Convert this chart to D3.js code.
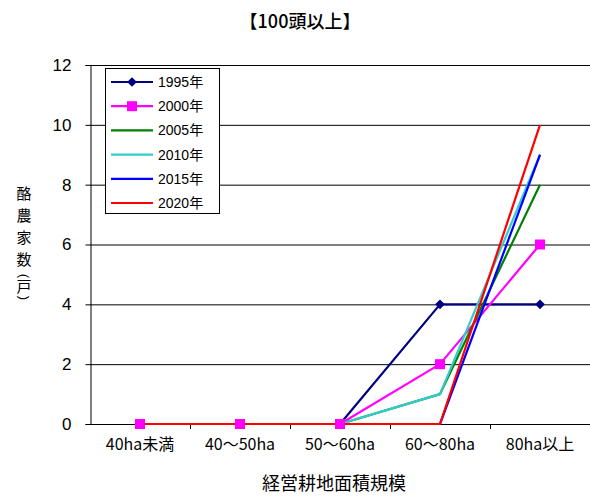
<!DOCTYPE html>
<html><head><meta charset="utf-8">
<script src="https://cdn.jsdelivr.net/npm/d3@7"></script>
<style>
body{margin:0;background:#fff;}
text{font-family:"Noto Sans CJK JP","Liberation Sans",sans-serif;fill:#000;}
</style></head>
<body><svg id="c" width="590" height="496"></svg>
<script>
const categories = ["40ha未満","40～50ha","50～60ha","60～80ha","80ha以上"];
const seriesNames = ["1995年","2000年","2005年","2010年","2015年","2020年"];
const v1995 = [0,0,0,4,4];
const v2000 = [0,0,0,2,6];
const v2005 = [0,0,0,1,8];
const v2010 = [0,0,0,1,9];
const v2015 = [0,0,0,0,9];
const v2020 = [0,0,0,0,10];
const yTicks = [0,2,4,6,8,10,12];
const colors = ["#000080","#FF00FF","#008000","#33CCCC","#0000FF","#FF0000"];
const markers = ["diamond","square",null,null,null,null];
const series = [v1995,v2000,v2005,v2010,v2015,v2020].map((v,i)=>({name:seriesNames[i],values:v,color:colors[i],marker:markers[i]}));

const svg = d3.select("#c");
const L=90,R=590,T=65,B=424;
const x = d3.scaleBand().domain(categories).range([L,R]);
const y = d3.scaleLinear().domain([0,12]).range([B,T]);

// gridlines
svg.append("g").selectAll("line").data(yTicks.filter(d=>d>0)).join("line")
  .attr("x1",L).attr("x2",R).attr("y1",d=>y(d)+0.5).attr("y2",d=>y(d)+0.5)
  .attr("stroke","#000").attr("stroke-width",1);

// y axis
const ya = svg.append("g").attr("transform",`translate(${L+0.5},0)`)
  .call(d3.axisLeft(y).tickValues(yTicks).tickSize(5).tickPadding(14));
ya.select(".domain").attr("stroke","#000");
ya.selectAll("text").attr("font-size",17).style("font-family","'Liberation Sans',sans-serif");
ya.selectAll(".tick line").attr("stroke","#000");

// x axis
const xa = svg.append("g").attr("transform",`translate(0,${B+0.5})`)
  .call(d3.axisBottom(x).tickSize(0).tickPadding(16));
xa.select(".domain").attr("stroke","#000").attr("d",`M${L},0H${R}`);
xa.selectAll("text").attr("font-size",16).attr("dy","0.6em");
// boundary ticks
svg.append("g").selectAll("line").data(categories.slice(1)).join("line")
  .attr("x1",d=>x(d)+0.5).attr("x2",d=>x(d)+0.5).attr("y1",B).attr("y2",B+5)
  .attr("stroke","#000");

// lines
const line = d3.line().x((d,i)=>x(categories[i])+x.bandwidth()/2).y(d=>y(d));
svg.append("g").selectAll("path").data(series).join("path")
  .attr("d",d=>line(d.values)).attr("fill","none")
  .attr("stroke",d=>d.color).attr("stroke-width",2.2).attr("stroke-linejoin","round");

// markers
function drawMarker(g,type,color){
  if(type==="diamond") g.append("path").attr("d",d3.symbol(d3.symbolDiamond2,60)()).attr("fill",color);
  else if(type==="square") g.append("rect").attr("x",-5).attr("y",-5).attr("width",10).attr("height",10).attr("fill",color);
}
series.forEach(s=>{
  if(!s.marker) return;
  s.values.forEach((v,i)=>{
    const g = svg.append("g").attr("transform",`translate(${x(categories[i])+x.bandwidth()/2},${y(v)})`);
    drawMarker(g,s.marker,s.color);
  });
});

// legend
const lg = svg.append("g");
lg.append("rect").attr("x",105.5).attr("y",68.5).attr("width",114).attr("height",145)
  .attr("fill","#fff").attr("stroke","#000");
series.forEach((s,i)=>{
  const yy = 82 + i*24.2;
  lg.append("line").attr("x1",111).attr("x2",153).attr("y1",yy).attr("y2",yy)
    .attr("stroke",s.color).attr("stroke-width",2.2);
  if(s.marker){ const g=lg.append("g").attr("transform",`translate(132,${yy})`); drawMarker(g,s.marker,s.color); }
  lg.append("text").attr("x",158).attr("y",yy).attr("dy","0.36em").attr("font-size",14)
    .style("font-family","'Liberation Sans','Noto Sans CJK JP',sans-serif").text(s.name);
});

// title
svg.append("text").attr("x",300).attr("y",22).attr("dy","0.36em").attr("text-anchor","middle")
  .attr("font-size",18).attr("font-weight",500).text("【100頭以上】");
// x title
svg.append("text").attr("x",334).attr("y",484).attr("dy","0.36em").attr("text-anchor","middle")
  .attr("font-size",18).text("経営耕地面積規模");
// y title vertical, one glyph per row; parentheses rotated
const yTitleChars = ["酪","農","家","数","(","戸",")"];
const yTitlePos = [194,216,238,260,276,287,298];
svg.append("g").selectAll("text").data(yTitleChars).join("text")
  .attr("transform",(d,i)=> (d==="("||d===")") ? `translate(24,${yTitlePos[i]}) rotate(90)` : `translate(24,${yTitlePos[i]})`)
  .attr("dy",(d)=> (d==="("||d===")") ? "0.3em" : "0.36em").attr("text-anchor","middle")
  .attr("font-size",(d)=> (d==="("||d===")") ? 13 : 15)
  .style("font-family",(d)=> (d==="("||d===")") ? "'Liberation Sans',sans-serif" : null)
  .text(d=>d);
</script></body></html>
